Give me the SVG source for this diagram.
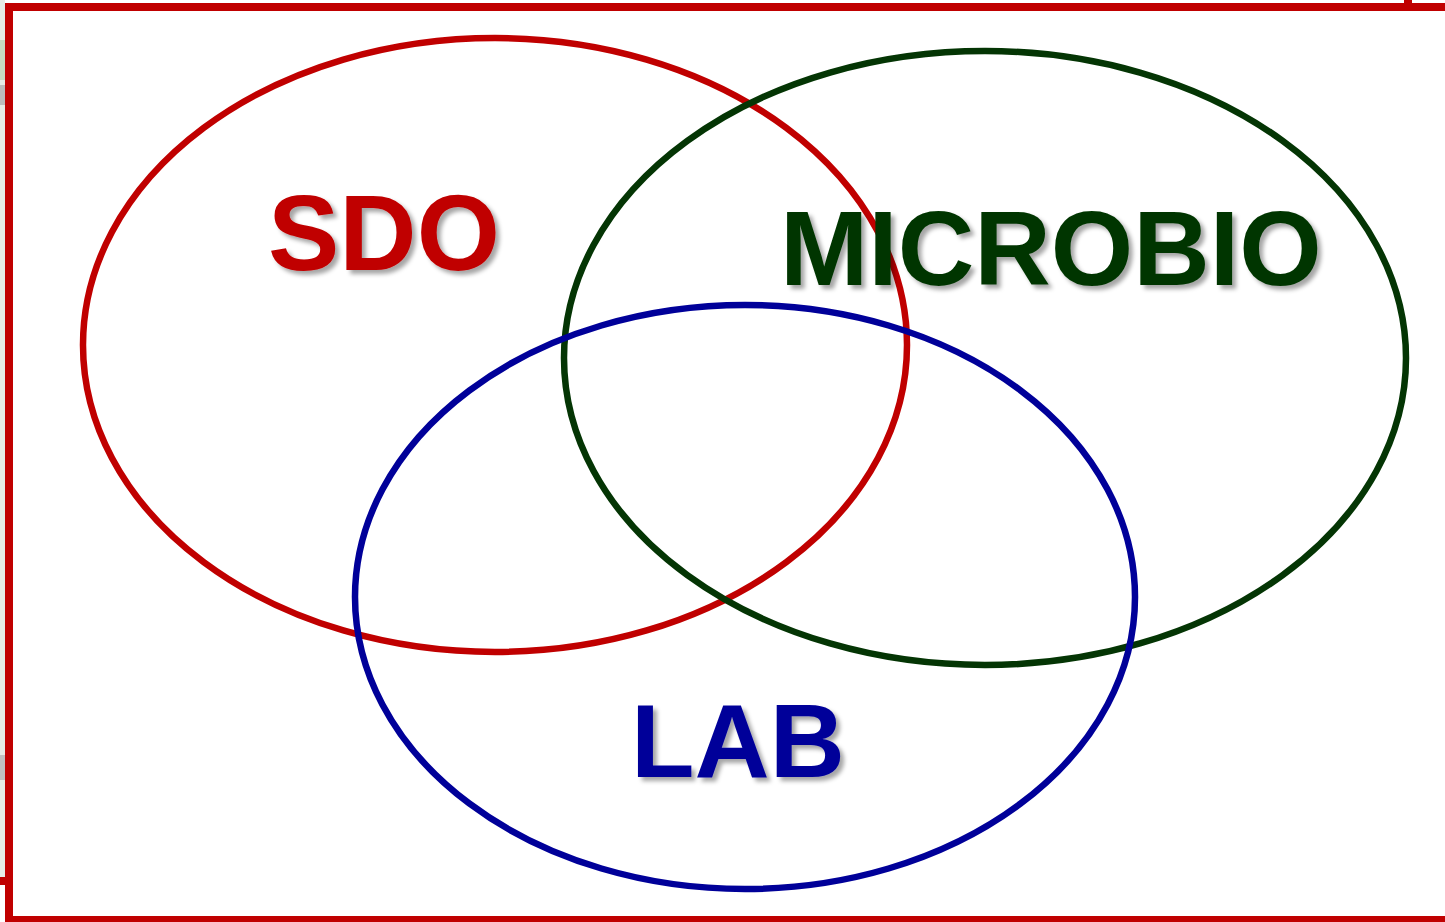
<svg xmlns="http://www.w3.org/2000/svg" width="1445" height="922" viewBox="0 0 1445 922">
<defs>
<filter id="sh" x="-10%" y="-20%" width="120%" height="150%">
<feDropShadow dx="4" dy="4" stdDeviation="2" flood-color="#000" flood-opacity="0.35"/>
</filter>
<style>
.lbl{font-family:"Liberation Sans",Arial,sans-serif;font-weight:bold;filter:url(#sh)}
.ell{fill:none;stroke-width:6.5}
</style>
</defs>
<rect x="0" y="0" width="1445" height="922" fill="#fff"/>
<g id="background">
<rect x="0" y="0" width="5" height="880" fill="#e6ece6"/>
<rect x="0" y="40" width="5" height="40" fill="#c6dcc0"/>
<rect x="0" y="85" width="5" height="20" fill="#bcbcbc"/>
<rect x="0" y="755" width="5" height="25" fill="#c0c0c0"/>
<rect x="0" y="877" width="9" height="8" fill="#c00000"/>
<rect x="1404" y="0" width="8" height="5" fill="#c00000"/>
</g>
<g id="frame">
<rect x="9" y="7" width="1450" height="913" fill="none" stroke="#c00000" stroke-width="8"/>
</g>
<g id="sdo">
<ellipse class="ell" cx="495" cy="345" rx="412" ry="307" stroke="#c00000"/>
</g>
<g id="microbio">
<ellipse class="ell" cx="985" cy="358" rx="421" ry="307" stroke="#043504"/>
</g>
<g id="lab">
<ellipse class="ell" cx="745" cy="597" rx="390" ry="292" stroke="#000099"/>
</g>
<g id="labels">
<text class="lbl" x="268" y="270" font-size="107" fill="#c00000">SDO</text>
<text class="lbl" x="780" y="285" font-size="106" fill="#043504">MICROBIO</text>
<text class="lbl" x="631" y="777" font-size="104" fill="#000099">LAB</text>
</g>
</svg>
